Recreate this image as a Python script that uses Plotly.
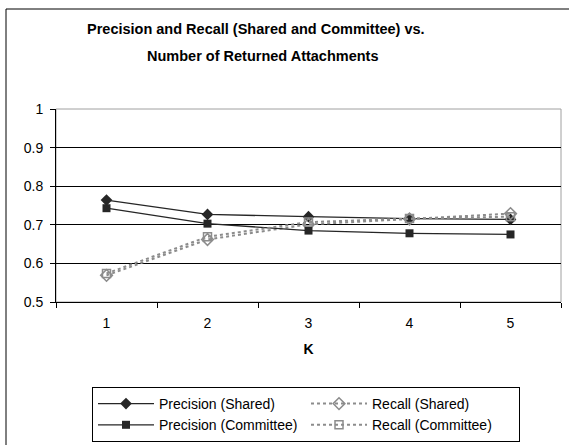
import plotly.graph_objects as go

k_labels = ["1", "2", "3", "4", "5"]
precision_shared = [0.764, 0.727, 0.721, 0.716, 0.714]
precision_committee = [0.743, 0.703, 0.685, 0.678, 0.675]
recall_shared = [0.569, 0.662, 0.701, 0.715, 0.729]
recall_committee = [0.574, 0.669, 0.707, 0.716, 0.721]
y_ticks = [0.5, 0.6, 0.7, 0.8, 0.9, 1]
y_tick_text = ["0.5", "0.6", "0.7", "0.8", "0.9", "1"]

W, H = 569, 445
ML, MR, MT, MB = 56, 8, 109, 143
PW, PH = W - ML - MR, H - MT - MB

def px_x(p):
    return (p - ML) / PW

def px_y(p):
    return (H - MB - p) / PH

fig = go.Figure()
fig.add_trace(go.Scatter(x=k_labels, y=precision_shared, name="Precision (Shared)", mode="lines+markers",
                         line=dict(color="#262626", width=1.3),
                         marker=dict(symbol="diamond", size=9, color="#262626")))
fig.add_trace(go.Scatter(x=k_labels, y=recall_shared, name="Recall (Shared)", mode="lines+markers",
                         line=dict(color="#8c8c8c", width=2, dash="dot"),
                         marker=dict(symbol="diamond-open", size=9, color="#8c8c8c", line=dict(width=1.5))))
fig.add_trace(go.Scatter(x=k_labels, y=precision_committee, name="Precision (Committee)", mode="lines+markers",
                         line=dict(color="#262626", width=1.3),
                         marker=dict(symbol="square", size=8, color="#262626")))
fig.add_trace(go.Scatter(x=k_labels, y=recall_committee, name="Recall (Committee)", mode="lines+markers",
                         line=dict(color="#8c8c8c", width=2, dash="dot"),
                         marker=dict(symbol="square-open", size=8, color="#8c8c8c", line=dict(width=1.5))))

font = "Liberation Sans, Arial, sans-serif"
fig.update_layout(
    width=W, height=H,
    margin=dict(l=ML, r=MR, t=MT, b=MB, autoexpand=False),
    paper_bgcolor="white", plot_bgcolor="white",
    font=dict(family=font, size=14, color="black"),
    showlegend=True,
    xaxis=dict(type="category", tickson="boundaries", ticks="outside", ticklen=5, tickcolor="black",
               showline=True, linecolor="black", linewidth=1, showgrid=False, zeroline=False,
               tickfont=dict(size=14), range=[-0.5, 4.5], ticklabelstandoff=8,
               title=dict(text="<b>K</b>", font=dict(size=14), standoff=14)),
    yaxis=dict(range=[0.5, 1.0], tickvals=y_ticks, ticktext=y_tick_text, ticks="outside", ticklen=5,
               tickcolor="black", showline=True, linecolor="black", linewidth=1, ticklabelstandoff=4,
               showgrid=True, gridcolor="black", gridwidth=1, zeroline=False, tickfont=dict(size=14)),
    legend=dict(orientation="h", x=px_x(92), y=px_y(387), xanchor="left", yanchor="top",
                bordercolor="black", borderwidth=1, bgcolor="white", entrywidth=142,
                font=dict(size=14), tracegroupgap=0, itemwidth=56),
)

# plot area border (top/right gray)
fig.add_shape(type="rect", xref="paper", yref="paper", x0=0, x1=1, y0=0, y1=1,
              line=dict(color="#a0a0a0", width=1), layer="below")
# outer chart border (right/bottom edges fall outside the visible page)
fig.add_shape(type="rect", xref="paper", yref="paper", x0=px_x(6), x1=px_x(580), y0=px_y(460), y1=px_y(9),
              line=dict(color="black", width=1))

fig.add_annotation(text="<b>Precision and Recall (Shared and Committee) vs.</b>",
                   xref="paper", yref="paper", x=px_x(256), y=px_y(29), xanchor="center", yanchor="middle",
                   showarrow=False, font=dict(size=14.5))
fig.add_annotation(text="<b>Number of Returned Attachments</b>",
                   xref="paper", yref="paper", x=px_x(262), y=px_y(56), xanchor="center", yanchor="middle",
                   showarrow=False, font=dict(size=14.5))

fig.write_html("out.html", config={"displayModeBar": False},
               post_script="document.body.style.margin='0';")
